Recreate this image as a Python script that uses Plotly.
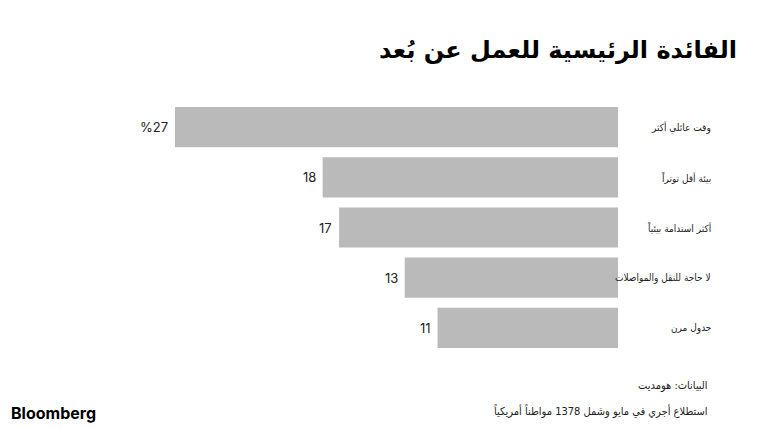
import plotly.graph_objects as go

categories = ["وقت عائلي أكثر", "بيئة أقل توتراً", "أكثر استدامة بيئياً", "لا حاجة للنقل والمواصلات", "جدول مرن"]
values = [27, 18, 17, 13, 11]
value_labels = ["%27", "18", "17", "13", "11"]

title = "الفائدة الرئيسية للعمل عن بُعد"
source = "البيانات: هومديت"
note = "استطلاع أجري في مايو وشمل 1378 مواطناً أمريكياً"

W, H = 760, 428
L, R, T, B = 175, 142, 102, 75
pw = W - L - R
ph = H - T - B

AR = "DejaVu Sans Condensed, DejaVu Sans, sans-serif"


def px(x):
    return (x - L) / pw


def py(y):
    return (H - B - y) / ph


fig = go.Figure(go.Bar(
    x=values, y=categories, orientation="h",
    marker=dict(color="#bababa", line=dict(width=0)),
    hoverinfo="skip",
))

annotations = []
for c, v, t in zip(categories, values, value_labels):
    annotations.append(dict(
        x=px(713), xref="paper", y=c, yref="y", text=c, showarrow=False,
        xanchor="right", yanchor="middle",
        font=dict(size=10, color="#222222", family=AR),
    ))
    annotations.append(dict(
        x=v, xref="x", y=c, yref="y", text=t, showarrow=False,
        xanchor="right", yanchor="middle", xshift=-5,
        font=dict(size=13, color="#222222", family="Inter, Roboto, sans-serif"),
    ))
annotations.append(dict(
    x=px(710), xref="paper", y=py(386), yref="paper", text=source,
    showarrow=False, xanchor="right", yanchor="middle",
    font=dict(size=11, color="#222222", family=AR),
))
annotations.append(dict(
    x=px(710), xref="paper", y=py(410), yref="paper", text=note,
    showarrow=False, xanchor="right", yanchor="middle",
    font=dict(size=11, color="#222222", family=AR),
))
annotations.append(dict(
    x=px(9), xref="paper", y=py(413), yref="paper", text="<b>Bloomberg</b>",
    showarrow=False, xanchor="left", yanchor="middle",
    font=dict(size=16, color="#000000", family="Inter, Roboto, Arial, sans-serif"),
))

fig.update_layout(
    width=W, height=H,
    margin=dict(l=L, r=R, t=T, b=B),
    paper_bgcolor="white", plot_bgcolor="white",
    bargap=0.2,
    showlegend=False,
    title=dict(
        text="<b>" + title + "</b>",
        x=737 / W, xref="container", xanchor="right",
        y=1 - 50 / H, yref="container", yanchor="middle",
        font=dict(size=24, color="#000000", family="DejaVu Sans, sans-serif"),
    ),
    xaxis=dict(range=[27, 0], visible=False, fixedrange=True),
    yaxis=dict(autorange="reversed", showticklabels=False, showgrid=False,
               zeroline=False, showline=False, ticks="", fixedrange=True),
    annotations=annotations,
)

fig.write_html("out.html", config={"displayModeBar": False},
               post_script="document.body.style.margin='0px';")
